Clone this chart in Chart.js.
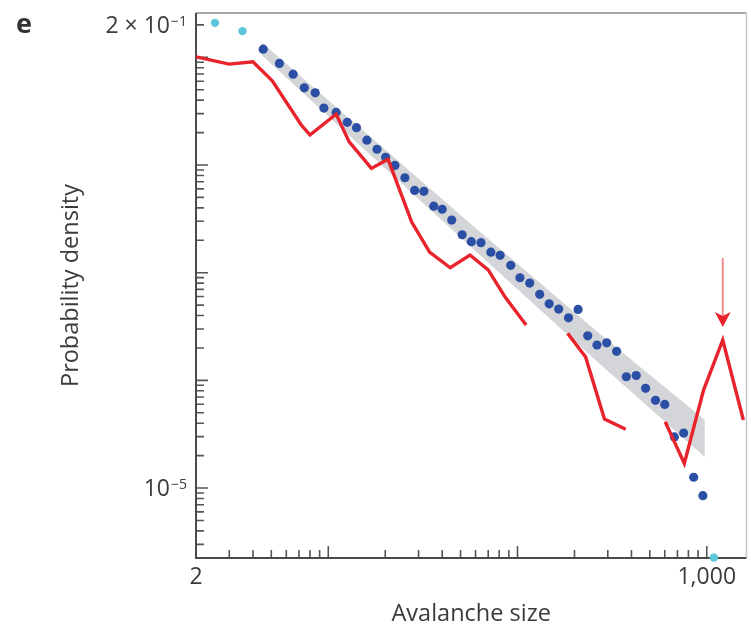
<!DOCTYPE html>
<html>
<head>
<meta charset="utf-8">
<script src="https://cdn.jsdelivr.net/npm/chart.js@4.4.1/dist/chart.umd.min.js"></script>
<style>
  html, body { margin: 0; padding: 0; background: #fff; }
  #wrap { width: 751px; height: 631px; }
</style>
</head>
<body>
<div id="wrap"><canvas id="chart" width="751" height="631"></canvas></div>
<script>
// avalanche size distribution, log-log axes

// binned sizes / densities (blue points)
const sizesBlue = [4.53, 5.52, 6.52, 7.47, 8.53, 9.48, 11.0, 12.6, 14.1, 16.0, 18.1, 20.1, 22.5, 25.4, 28.6,
  32.0, 36.1, 40.0, 44.9, 51.0, 57.0, 64.1, 72.3, 80.9, 92.1, 103, 116, 131, 147, 165, 186, 209, 235, 263,
  296, 334, 376, 424, 475, 536, 600, 674, 755, 853, 954];
const densBlue = [0.119, 0.0878, 0.0698, 0.0521, 0.0468, 0.0338, 0.0308, 0.0249, 0.0222, 0.0170, 0.0140,
  0.0118, 0.00991, 0.00761, 0.00581, 0.00569, 0.00415, 0.00388, 0.00308, 0.00225, 0.00194, 0.00190, 0.00155,
  0.00145, 0.00117, 0.000897, 0.000801, 0.000629, 0.000514, 0.000459, 0.000381, 0.000456, 0.000259, 0.000213,
  0.000223, 0.000186, 0.000108, 0.000111, 8.43e-5, 6.52e-5, 5.98e-5, 2.98e-5, 3.24e-5, 1.26e-5, 8.5e-6];

// points outside the fit range (cyan)
const sizesCyan = [2.52, 3.52, 1090];
const densCyan = [0.209, 0.175, 2.26e-6];

// red curve, null = break in the line
const sizesRed = [2.0, 2.99, 4.0, 5.06, 7.2, 8.0, 11.0, 12.9, 16.9, 20.7, 27.6, 34.3, 44.1, 56.1, 70.0, 86.0,
  111, 150, 184, 229, 288, 373, 480, 603, 761, 962, 1215, 1561];
const densRed = [0.101, 0.0865, 0.0908, 0.0605, 0.0235, 0.0190, 0.0297, 0.0164, 0.0093, 0.0113, 0.00295,
  0.00155, 0.00111, 0.00146, 0.00106, 0.000594, 0.000326, null, 0.000273, 0.000165, 4.37e-5, 3.51e-5, null,
  4.13e-5, 1.69e-5, 8.13e-5, 2.37e-4, 4.28e-5];

// power-law fit band
const bandSizes = [4.44, 16.4, 59.1, 265, 977];
const bandHigh = [0.138, 0.0188, 0.00265, 0.000281, 4.28e-5];
const bandLow = [0.105, 0.0128, 0.00162, 0.000148, 1.94e-5];

// red bin marked with the arrow
const peakSize = 1215;

// axis ranges and labelled ticks
const xRange = [2, 1620];
const yRange = [2.24e-6, 0.258];
const xLabelValues = [2, 1000];
const xLabelText = ['2', '1,000'];
const yLabelValues = [0.2, 1e-5];
const yLabelBase = ['2 × 10', '10'];
const yLabelExp = ['−1', '−5'];

const textColor = '#3b3b3b';
const fontFamily = "'Open Sans', 'Noto Sans', sans-serif";
Chart.defaults.font.family = fontFamily;
Chart.defaults.color = textColor;

const pts = (xs, ys) => xs.map((x, i) => ({ x: x, y: ys[i] }));

// every 1..9 x 10^n inside [min, max]
function logTicks(min, max) {
  const out = [];
  for (let e = Math.floor(Math.log10(min)); e <= Math.ceil(Math.log10(max)); e++) {
    for (let m = 1; m < 10; m++) {
      const v = m * Math.pow(10, e);
      if (v >= min * 0.999 && v <= max * 1.001) out.push({ value: v, major: m === 1 });
    }
  }
  return out;
}

// frame + inward tick marks
const framePlugin = {
  id: 'frame',
  beforeDatasetsDraw(chart) {
    const { ctx, chartArea: a, scales } = chart;
    ctx.save();
    ctx.lineCap = 'butt';
    // top / right border
    ctx.strokeStyle = '#8a8a8a';
    ctx.lineWidth = 1.5;
    ctx.beginPath();
    ctx.moveTo(a.left, a.top);
    ctx.lineTo(a.right, a.top);
    ctx.stroke();
    ctx.strokeStyle = '#c8c8c8';
    ctx.beginPath();
    ctx.moveTo(a.right, a.top);
    ctx.lineTo(a.right, a.bottom);
    ctx.stroke();
    // ticks
    ctx.strokeStyle = '#555';
    ctx.lineWidth = 1.6;
    ctx.beginPath();
    scales.x.ticks.forEach(t => {
      const px = scales.x.getPixelForValue(t.value);
      ctx.moveTo(px, a.bottom);
      ctx.lineTo(px, a.bottom - (t.major ? 12 : 8));
    });
    scales.y.ticks.forEach(t => {
      const py = scales.y.getPixelForValue(t.value);
      ctx.moveTo(a.left, py);
      ctx.lineTo(a.left + (t.major ? 12 : 8), py);
    });
    ctx.stroke();
    // left / bottom axes
    ctx.strokeStyle = '#4a4a4a';
    ctx.lineWidth = 2;
    ctx.beginPath();
    ctx.moveTo(a.left, a.top);
    ctx.lineTo(a.left, a.bottom);
    ctx.lineTo(a.right, a.bottom);
    ctx.stroke();
    ctx.restore();
  },
  afterDatasetsDraw(chart) {
    const { ctx, scales } = chart;
    ctx.save();
    // y labels with superscript exponents
    yLabelValues.forEach((v, i) => {
      const py = scales.y.getPixelForValue(v);
      const right = chart.chartArea.left - 9;
      ctx.font = '14px ' + fontFamily;
      const wExp = ctx.measureText(yLabelExp[i]).width;
      ctx.font = '23px ' + fontFamily;
      const wBase = ctx.measureText(yLabelBase[i]).width;
      ctx.fillStyle = textColor;
      ctx.textBaseline = 'alphabetic';
      ctx.textAlign = 'left';
      ctx.fillText(yLabelBase[i], right - wExp - wBase - 1, py + 8);
      ctx.font = '14px ' + fontFamily;
      ctx.fillText(yLabelExp[i], right - wExp, py + 1);
    });
    // arrow over the marked bin
    const idx = sizesRed.indexOf(peakSize);
    const ax = scales.x.getPixelForValue(peakSize);
    const ay = scales.y.getPixelForValue(densRed[idx]);
    ctx.strokeStyle = 'rgba(236, 60, 66, 0.6)';
    ctx.lineWidth = 2;
    ctx.beginPath();
    ctx.moveTo(ax, ay - 82);
    ctx.lineTo(ax, ay - 24);
    ctx.stroke();
    ctx.fillStyle = '#e8232b';
    ctx.beginPath();
    ctx.moveTo(ax - 8, ay - 28);
    ctx.lineTo(ax, ay - 24);
    ctx.lineTo(ax + 8, ay - 28);
    ctx.lineTo(ax, ay - 13);
    ctx.closePath();
    ctx.fill();
    // panel letter
    ctx.fillStyle = '#333';
    ctx.font = 'bold 27px ' + fontFamily;
    ctx.textAlign = 'left';
    ctx.fillText('e', 16, 33);
    ctx.restore();
  }
};

new Chart(document.getElementById('chart'), {
  type: 'line',
  data: {
    datasets: [
      {
        label: 'red',
        data: pts(sizesRed, densRed),
        borderColor: '#e8232b',
        borderWidth: 3.4,
        pointRadius: 0,
        spanGaps: false,
        tension: 0,
        fill: false
      },
      {
        label: 'cyan',
        data: pts(sizesCyan, densCyan),
        showLine: false,
        pointRadius: 4.2,
        pointBorderWidth: 0,
        pointBackgroundColor: '#5cc6da',
        clip: false
      },
      {
        label: 'blue',
        data: pts(sizesBlue, densBlue),
        showLine: false,
        pointRadius: 4.6,
        pointBorderWidth: 0,
        pointBackgroundColor: '#2c4fa6'
      },
      {
        label: 'band high',
        data: pts(bandSizes, bandHigh),
        borderColor: 'rgba(0,0,0,0)',
        borderWidth: 0,
        pointRadius: 0,
        backgroundColor: '#d3d5d8',
        fill: '+1',
        tension: 0
      },
      {
        label: 'band low',
        data: pts(bandSizes, bandLow),
        borderColor: 'rgba(0,0,0,0)',
        borderWidth: 0,
        pointRadius: 0,
        fill: false,
        tension: 0
      }
    ]
  },
  options: {
    responsive: false,
    animation: false,
    layout: { padding: { top: 13, right: 2, left: 0, bottom: 0 } },
    plugins: {
      legend: { display: false },
      tooltip: { enabled: false }
    },
    scales: {
      x: {
        type: 'logarithmic',
        min: xRange[0],
        max: xRange[1],
        afterBuildTicks: s => { s.ticks = logTicks(xRange[0], xRange[1]); },
        afterFit: s => { s.height = 73; },
        grid: { display: false, drawTicks: false },
        border: { display: false },
        ticks: {
          autoSkip: false,
          maxRotation: 0,
          padding: 6,
          color: textColor,
          font: { size: 23 },
          callback: v => {
            const i = xLabelValues.findIndex(l => Math.abs(l - v) < 1e-9 * l);
            return i >= 0 ? xLabelText[i] : '';
          }
        },
        title: {
          display: true,
          text: 'Avalanche size',
          color: textColor,
          font: { size: 23.5 },
          padding: { top: 0, bottom: 3 }
        }
      },
      y: {
        type: 'logarithmic',
        min: yRange[0],
        max: yRange[1],
        afterBuildTicks: s => { s.ticks = logTicks(yRange[0], yRange[1]); },
        afterFit: s => { s.width = 196; },
        grid: { display: false, drawTicks: false },
        border: { display: false },
        ticks: { display: false },
        title: {
          display: true,
          text: 'Probability density',
          color: textColor,
          font: { size: 23.5 },
          padding: { top: 57, bottom: 0 }
        }
      }
    }
  },
  plugins: [framePlugin]
});
</script>
</body>
</html>
